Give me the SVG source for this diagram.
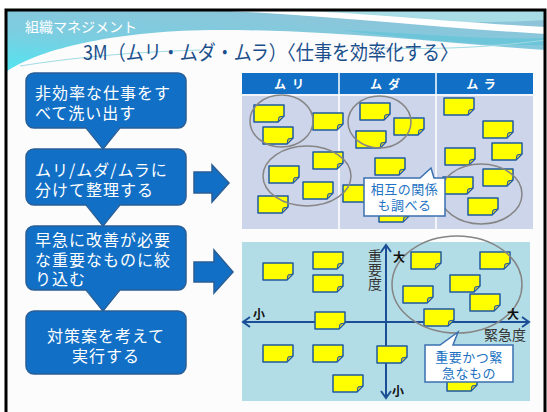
<svg xmlns="http://www.w3.org/2000/svg" xmlns:xlink="http://www.w3.org/1999/xlink" width="547" height="412" viewBox="0 0 547 412">
<style>
.jp{font-family:"Noto Sans CJK JP","Noto Sans",sans-serif}
.box{fill:#1170c6;stroke:#2a5e96;stroke-width:1.5}
.bt{fill:#fff;font-size:16px;letter-spacing:1px}
.note{fill:#ffff00;stroke:#1f5aa0;stroke-width:1.5;stroke-linejoin:round}
.fold{fill:#c9c236;stroke:#1f5aa0;stroke-width:1}
.ell{fill:none;stroke:#858585;stroke-width:1.5}
.axis{stroke:#1b4e97;stroke-width:2;fill:none}
.call{fill:#fff;stroke:#3a6fb0;stroke-width:1.5}
.ct{fill:#2272c3;font-size:13px;letter-spacing:0.5px;text-anchor:middle}
.lab{fill:#111;font-size:12px;font-weight:bold}
.ax{fill:#333;font-size:14px}
.hd{fill:#fff;font-size:12px;font-weight:bold;letter-spacing:6px;text-anchor:middle}
</style>
<defs>
<linearGradient id="hg" x1="0" y1="1" x2="0.6" y2="0">
<stop offset="0" stop-color="#4fe6f2"/>
<stop offset="0.5" stop-color="#7ccde0"/>
<stop offset="1" stop-color="#8ec4d9"/>
</linearGradient>
<g id="note">
<path class="note" d="M0,0 H30 V11 L24,17 H0 Z"/>
<path class="fold" d="M30,11 L24,17 L25,12 Z"/>
</g>
<marker id="ah" markerWidth="8" markerHeight="8" refX="6" refY="4" orient="auto" markerUnits="userSpaceOnUse">
<path d="M0,0 L6,4 L0,8" fill="none" stroke="#1f4e8a" stroke-width="2"/>
</marker>
</defs>

<g id="background">
<rect x="0" y="0" width="547" height="412" fill="#fff"/>
<rect x="6" y="10" width="540" height="64" fill="url(#hg)"/>
<path d="M240,11 C340,18 450,26 546,20 V11 Z" fill="#a9dde6"/>
<path d="M230,11 C330,16 440,28 546,34 V27 C450,22 350,12 300,11 Z" fill="#fff"/>
<path d="M340,30 C420,34 490,40 546,38 V45 C480,46 420,40 340,30 Z" fill="#6cc5d9"/>
<path d="M6,72 C40,48 120,30 220,30 C340,30 450,44 546,50 V412 H6 Z" fill="#fcfcfc"/>
<path d="M20,66 C70,58 130,52 200,50" stroke="#9fdbe4" stroke-width="1" fill="none"/>
<path d="M380,48 C450,50 500,46 546,40" stroke="#9fdbe4" stroke-width="1" fill="none"/>
<rect x="6" y="10" width="539" height="410" fill="none" stroke="#000" stroke-width="3"/>
</g>

<g id="header">
<text class="jp" x="25" y="32" font-size="14" fill="#fff">組織マネジメント</text>
<text class="jp" x="83" y="60" font-size="20" fill="#1b4f8c" textLength="375" lengthAdjust="spacingAndGlyphs">3M（ムリ・ムダ・ムラ）〈仕事を効率化する〉</text>
</g>

<g id="step1">
<rect class="box" x="26" y="73" width="160" height="55" rx="8"/>
<text class="jp bt" x="35" y="99">非効率な仕事をす</text>
<text class="jp bt" x="35" y="119">べて洗い出す</text>
</g>
<g id="step2">
<rect class="box" x="26" y="149" width="160" height="56" rx="8"/>
<text class="jp bt" x="35" y="176">ムリ/ムダ/ムラに</text>
<text class="jp bt" x="35" y="196">分けて整理する</text>
</g>
<g id="step3">
<rect class="box" x="26" y="226" width="160" height="64" rx="8"/>
<text class="jp bt" x="35" y="246">早急に改善が必要</text>
<text class="jp bt" x="35" y="266">な重要なものに絞</text>
<text class="jp bt" x="35" y="285">り込む</text>
</g>
<g id="step4">
<rect class="box" x="26" y="311" width="160" height="63" rx="8"/>
<text class="jp bt" x="106" y="342" text-anchor="middle">対策案を考えて</text>
<text class="jp bt" x="106" y="362" text-anchor="middle">実行する</text>
</g>

<g id="connectors">
<polygon points="86,127 120,127 103,150" fill="#1170c6"/>
<path d="M86,128 L103,149 L120,128" fill="none" stroke="#2a5e96" stroke-width="1.2"/>
<polygon points="86,204 120,204 103,227" fill="#1170c6"/>
<path d="M86,205 L103,226 L120,205" fill="none" stroke="#2a5e96" stroke-width="1.2"/>
<polygon points="86,289 120,289 103,312" fill="#1170c6"/>
<path d="M86,290 L103,311 L120,290" fill="none" stroke="#2a5e96" stroke-width="1.2"/>
<polygon class="box" points="194,172 212,172 212,165 229,183 212,202 212,193 194,193"/>
<polygon class="box" points="194,262 214,262 214,250 233,272 214,293 214,282 194,282"/>
<line x1="347" y1="160" x2="358" y2="152" stroke="#1f4e8a" stroke-width="2" marker-end="url(#ah)"/>
<line x1="408" y1="150" x2="432" y2="168" stroke="#1f4e8a" stroke-width="2" marker-end="url(#ah)"/>
</g>

<g id="panel-top">
<rect x="242" y="73" width="291" height="156" fill="#cdd5ea"/>
<rect x="242" y="73" width="291" height="21" fill="#1170c6"/>
<line x1="242" y1="95" x2="533" y2="95" stroke="#fff" stroke-width="1.5"/>
<line x1="339" y1="73" x2="339" y2="229" stroke="#fff" stroke-width="1.5"/>
<line x1="436" y1="73" x2="436" y2="229" stroke="#fff" stroke-width="1.5"/>
<text class="jp hd" x="292" y="89">ムリ</text>
<text class="jp hd" x="388" y="89">ムダ</text>
<text class="jp hd" x="484" y="89">ムラ</text>
<use xlink:href="#note" x="254" y="105"/>
<use xlink:href="#note" x="263" y="127"/>
<use xlink:href="#note" x="313" y="113"/>
<use xlink:href="#note" x="313" y="152"/>
<use xlink:href="#note" x="269" y="166"/>
<use xlink:href="#note" x="303" y="182"/>
<use xlink:href="#note" x="258" y="196"/>
<use xlink:href="#note" x="360" y="103"/>
<use xlink:href="#note" x="394" y="118"/>
<use xlink:href="#note" x="356" y="131"/>
<use xlink:href="#note" x="375" y="158"/>
<use xlink:href="#note" x="343" y="185"/>
<use xlink:href="#note" x="379" y="205"/>
<use xlink:href="#note" x="444" y="98"/>
<use xlink:href="#note" x="483" y="121"/>
<use xlink:href="#note" x="492" y="143"/>
<use xlink:href="#note" x="445" y="148"/>
<use xlink:href="#note" x="483" y="169"/>
<use xlink:href="#note" x="443" y="177"/>
<use xlink:href="#note" x="468" y="198"/>
<ellipse class="ell" cx="281.5" cy="121" rx="31.5" ry="26"/>
<ellipse class="ell" cx="307" cy="176" rx="44" ry="30"/>
<ellipse class="ell" cx="379.5" cy="122" rx="31.5" ry="26"/>
<ellipse class="ell" cx="481" cy="194" rx="41" ry="30"/>
</g>
<g id="callout-top">
<path class="call" d="M364,178 H420 L431,168 L434,178 H445 V216 H364 Z"/>
<text class="jp ct" x="404.5" y="194">相互の関係</text>
<text class="jp ct" x="404.5" y="210">も調べる</text>
</g>

<g id="panel-bottom">
<rect x="242" y="242" width="288" height="159" fill="#b3dde6"/>
<use xlink:href="#note" x="263" y="263"/>
<use xlink:href="#note" x="313" y="252"/>
<use xlink:href="#note" x="313" y="275"/>
<use xlink:href="#note" x="263" y="345"/>
<use xlink:href="#note" x="313" y="345"/>
<use xlink:href="#note" x="333" y="375"/>
<use xlink:href="#note" x="411" y="252"/>
<use xlink:href="#note" x="480" y="252"/>
<use xlink:href="#note" x="450" y="275"/>
<use xlink:href="#note" x="403" y="286"/>
<use xlink:href="#note" x="470" y="294"/>
<use xlink:href="#note" x="447" y="374"/>
<line class="axis" x1="386" y1="245" x2="386" y2="398"/>
<line class="axis" x1="243" y1="322" x2="529" y2="322"/>
<polyline class="axis" points="381,252 386,245 391,252"/>
<polyline class="axis" points="381,391 386,398 391,391"/>
<polyline class="axis" points="250,317 243,322 250,327"/>
<polyline class="axis" points="522,317 529,322 522,327"/>
<use xlink:href="#note" x="315" y="312"/>
<use xlink:href="#note" x="377" y="346"/>
<use xlink:href="#note" x="424" y="309"/>
<ellipse class="ell" cx="457" cy="284.5" rx="65" ry="48.5"/>
<text class="jp ax" x="375" y="249" writing-mode="vertical-rl" style="writing-mode:vertical-rl">重要度</text>
<text class="jp ax" x="484" y="340">緊急度</text>
<text class="jp lab" x="393" y="262">大</text>
<text class="jp lab" x="507" y="319">大</text>
<text class="jp lab" x="253" y="319">小</text>
<text class="jp lab" x="392" y="396">小</text>
</g>
<g id="callout-bottom">
<path class="call" d="M425,345 H440 L458,332 L453,345 H513 V382 H425 Z"/>
<text class="jp ct" x="469" y="362">重要かつ緊</text>
<text class="jp ct" x="469" y="378">急なもの</text>
</g>
</svg>
